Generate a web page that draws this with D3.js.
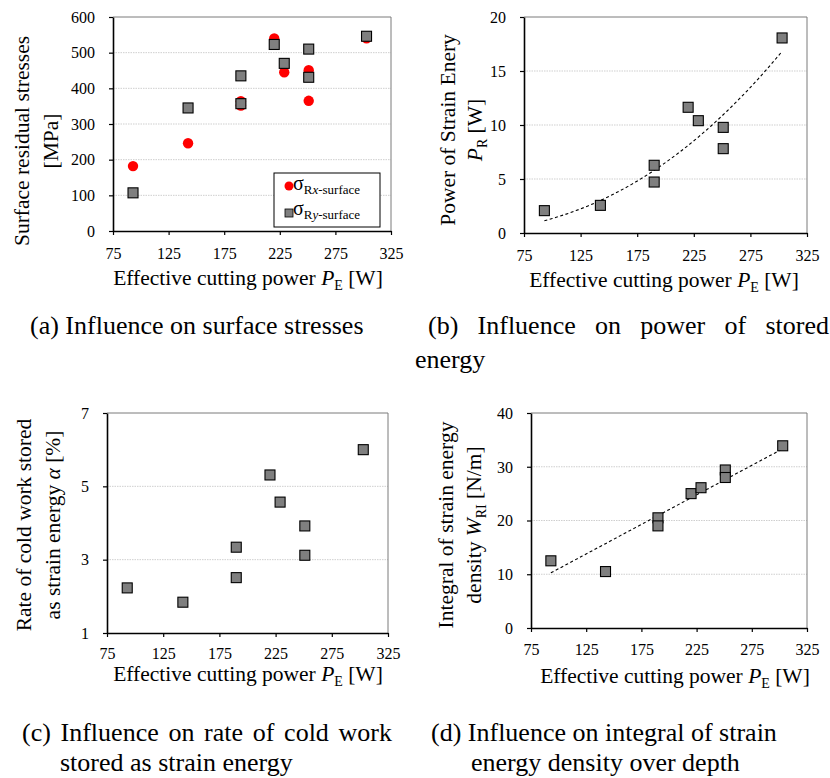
<!DOCTYPE html>
<html><head><meta charset="utf-8">
<script src="https://cdn.jsdelivr.net/npm/d3@7"></script>
<style>
body{margin:0;background:#fff}
text{font-family:"Liberation Serif","Times New Roman",serif;fill:#000}
</style>
</head><body>
<svg id="chart" width="830" height="778"></svg>
<script>
// ---------- data ----------
const xTicks = [75, 125, 175, 225, 275, 325];
const pe = [93, 142.5, 190, 190, 220, 229, 251, 251, 303];          // effective cutting power P_E [W]
const sigmaRx = [182, 246, 364, 352, 540, 445, 451, 365, 540];      // panel a, red circles [MPa]
const sigmaRy = [107, 345, 435, 357, 523, 470, 510, 431, 546];      // panel a, grey squares [MPa]
const yTicksA = [0, 100, 200, 300, 400, 500, 600];
const powerPR = [2.07, 2.56, 6.27, 4.72, 11.64, 10.40, 9.78, 7.81, 18.06]; // panel b [W]
const yTicksB = [0, 5, 10, 15, 20];
const trendBCoef = [3.70e-5, 2.28];                                  // power trend a*x^b
const alphaRate = [2.23, 1.84, 3.34, 2.51, 5.31, 4.57, 3.92, 3.12, 6.0]; // panel c [%]
const yTicksC = [1, 3, 5, 7];
const wRI = [12.5, 10.5, 20.5, 19.0, 25.0, 26.1, 29.4, 28.0, 33.9]; // panel d [N/m]
const yTicksD = [0, 10, 20, 30, 40];
const trendDCoef = [0.1099, 0.04];                                   // linear trend m*x+c

const svg = d3.select("#chart");
const fmt = d3.format("d");

function panel(p) {
  const g = svg.append("g");
  const x = d3.scaleLinear().domain([75, 325]).range([p.L, p.R]);
  const y = d3.scaleLinear().domain([p.yTicks[0], p.yTicks[p.yTicks.length - 1]]).range([p.B, p.T]);
  // gridlines
  g.selectAll("line.grid").data(p.yTicks.slice(1, -1)).join("line")
    .attr("x1", p.L).attr("x2", p.R).attr("y1", d => y(d)).attr("y2", d => y(d))
    .attr("stroke", "#cfcfcf").attr("stroke-width", 1).attr("stroke-dasharray", "1.5,1");
  // top/right frame
  g.append("path").attr("d", `M${p.L},${p.T}H${p.R}V${p.B}`)
    .attr("fill", "none").attr("stroke", "#7a7a7a").attr("stroke-width", 1);
  // axes
  const xa = g.append("g").attr("transform", `translate(0,${p.B})`)
    .call(d3.axisBottom(x).tickValues(xTicks).tickFormat(fmt).tickSize(4).tickPadding(p.xPad).tickSizeOuter(0));
  const ya = g.append("g").attr("transform", `translate(${p.L},0)`)
    .call(d3.axisLeft(y).tickValues(p.yTicks).tickFormat(fmt).tickSize(4).tickPadding(14).tickSizeOuter(0));
  [xa, ya].forEach(a => {
    a.select(".domain").attr("stroke", "#000").attr("stroke-width", 1.6);
    a.selectAll(".tick line").attr("stroke", "#000").attr("stroke-width", 1.2);
    a.selectAll("text").attr("font-size", 16).attr("font-family", '"Liberation Serif",serif').attr("fill", "#000");
  });
  ya.selectAll("text").attr("dy", "0.33em");
  // x-axis title
  const xt = g.append("text").attr("x", p.xtX).attr("y", p.xtY).attr("text-anchor", "middle").attr("font-size", 21.5);
  xt.append("tspan").text("Effective cutting power ");
  xt.append("tspan").attr("font-style", "italic").text("P");
  xt.append("tspan").attr("font-size", 14).attr("dy", 5).text("E");
  xt.append("tspan").attr("dy", -5).text(" [W]");
  // y-axis title (two lines, rotated)
  p.yTitle.forEach((parts, i) => {
    const t = g.append("text")
      .attr("transform", `translate(${p.ytX[i]},${p.ytY}) rotate(-90)`)
      .attr("text-anchor", "middle").attr("dy", "0.35em").attr("font-size", 21.5);
    let shifted = 0;
    parts.forEach(pt => {
      const s = t.append("tspan").text(pt.t);
      if (pt.i) s.attr("font-style", "italic");
      if (pt.sub) { s.attr("font-size", 14).attr("dy", 5); shifted = 5; }
      else if (shifted) { s.attr("dy", -shifted); shifted = 0; }
    });
  });
  return {g, x, y};
}

function squares(g, x, y, xs, ys) {
  g.selectAll(null).data(xs.map((d, i) => [d, ys[i]])).join("rect")
    .attr("x", d => x(d[0]) - 5).attr("y", d => y(d[1]) - 5)
    .attr("width", 10).attr("height", 10)
    .attr("fill", "#7f7f7f").attr("stroke", "#000").attr("stroke-width", 1.1);
}
function trend(g, x, y, fn) {
  const ext = d3.extent(pe);
  const xs = d3.range(ext[0], ext[1] + 0.01, (ext[1] - ext[0]) / 60);
  g.append("path").datum(xs)
    .attr("d", d3.line().x(d => x(d)).y(d => y(fn(d))))
    .attr("fill", "none").attr("stroke", "#000").attr("stroke-width", 1.1).attr("stroke-dasharray", "3,2.5");
}

// ---------- panel a ----------
{
  const {g, x, y} = panel({L:113, T:17, R:391, B:231, yTicks:yTicksA, xPad:13, xtX:248, xtY:285,
    ytX:[21, 50], ytY:141,
    yTitle:[[{t:"Surface residual stresses"}], [{t:"[MPa]"}]]});
  g.selectAll(null).data(pe.map((d, i) => [d, sigmaRx[i]])).join("circle")
    .attr("cx", d => x(d[0])).attr("cy", d => y(d[1])).attr("r", 5.2).attr("fill", "#ff0000");
  squares(g, x, y, pe, sigmaRy);
  // legend
  const lg = g.append("g");
  lg.append("rect").attr("x", 274).attr("y", 173).attr("width", 106).attr("height", 54)
    .attr("fill", "#fff").attr("stroke", "#000").attr("stroke-width", 1);
  lg.append("circle").attr("cx", 289).attr("cy", 186).attr("r", 4.5).attr("fill", "#ff0000");
  lg.append("rect").attr("x", 285).attr("y", 209).attr("width", 8).attr("height", 8)
    .attr("fill", "#7f7f7f").attr("stroke", "#000").attr("stroke-width", 0.8);
  [["x", 190], ["y", 215]].forEach(([v, yy]) => {
    const t = lg.append("text").attr("x", 293).attr("y", yy).attr("font-size", 20);
    t.append("tspan").text("σ");
    t.append("tspan").attr("font-size", 13).attr("dy", 4).text("R");
    t.append("tspan").attr("font-size", 13).attr("font-style", "italic").text(v);
    t.append("tspan").attr("font-size", 13).text("-surface");
  });
}
// ---------- panel b ----------
{
  const {g, x, y} = panel({L:524, T:17, R:807, B:233, yTicks:yTicksB, xPad:13, xtX:664, xtY:287,
    ytX:[447, 474], ytY:130,
    yTitle:[[{t:"Power of Strain Enery"}], [{t:"P", i:true}, {t:"R", sub:true}, {t:" [W]"}]]});
  trend(g, x, y, v => trendBCoef[0] * Math.pow(v, trendBCoef[1]));
  squares(g, x, y, pe, powerPR);
}
// ---------- panel c ----------
{
  const {g, x, y} = panel({L:107, T:413, R:388, B:633, yTicks:yTicksC, xPad:11, xtX:248, xtY:681,
    ytX:[23, 52], ytY:525,
    yTitle:[[{t:"Rate of cold work stored"}], [{t:"as strain energy "}, {t:"α", i:true}, {t:" [%]"}]]});
  squares(g, x, y, pe, alphaRate);
}
// ---------- panel d ----------
{
  const {g, x, y} = panel({L:531, T:413, R:807, B:628, yTicks:yTicksD, xPad:12, xtX:675, xtY:683,
    ytX:[445, 473], ytY:525,
    yTitle:[[{t:"Integral of strain energy"}], [{t:"density "}, {t:"W", i:true}, {t:"RI", sub:true}, {t:" [N/m]"}]]});
  trend(g, x, y, v => trendDCoef[0] * v + trendDCoef[1]);
  squares(g, x, y, pe, wRI);
}

// ---------- captions ----------
function caption(words, x0, x1, yy, justify) {
  const g = svg.append("g");
  const ts = words.map(w => g.append("text").attr("y", yy).attr("font-size", 26).text(w));
  const widths = ts.map(t => t.node().getComputedTextLength());
  const sum = d3.sum(widths);
  const sp = justify && words.length > 1 ? (x1 - x0 - sum) / (words.length - 1) : 6.5;
  let cx = x0;
  ts.forEach((t, i) => { t.attr("x", cx); cx += widths[i] + sp; });
}
caption(["(a)", "Influence", "on", "surface", "stresses"], 30, 0, 334, false);
caption(["(b)", "Influence", "on", "power", "of", "stored"], 428, 829, 334, true);
caption(["energy"], 415, 0, 368, false);
caption(["(c)", "Influence", "on", "rate", "of", "cold", "work"], 22, 392, 741, true);
caption(["stored", "as", "strain", "energy"], 60, 0, 771, false);
caption(["(d)", "Influence", "on", "integral", "of", "strain"], 431, 0, 741, false);
caption(["energy", "density", "over", "depth"], 471, 0, 771, false);
</script>
</body></html>
